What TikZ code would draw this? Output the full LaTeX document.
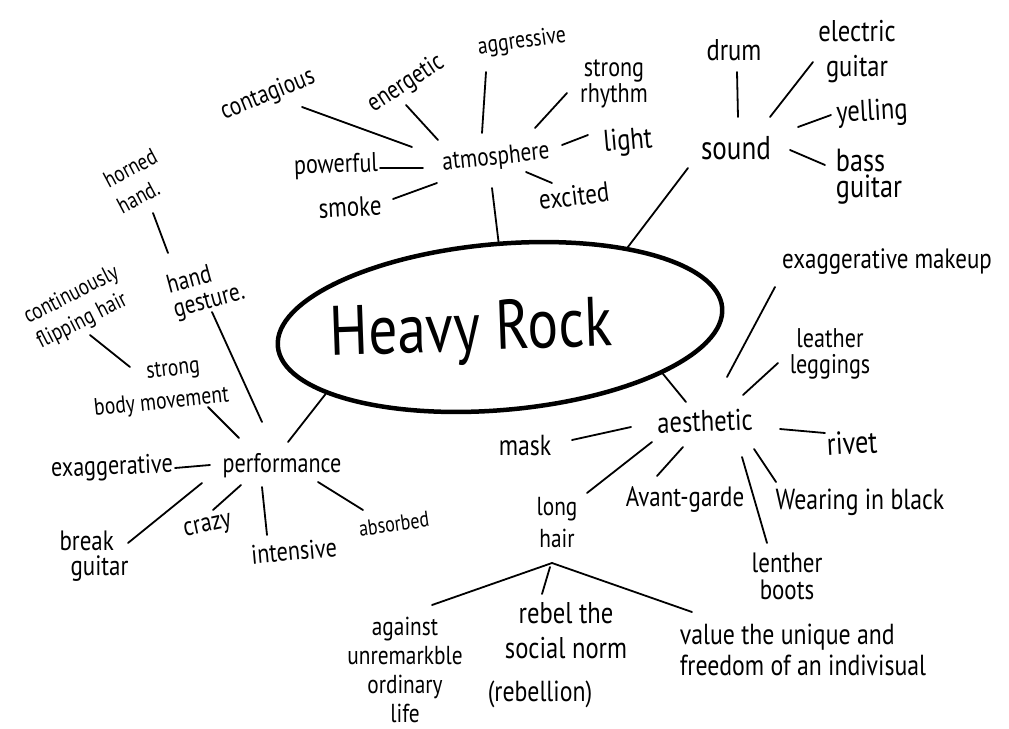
\documentclass[tikz,border=0pt]{standalone}
\usepackage{fontspec}
\setmainfont{PT Sans}[FakeStretch=0.82]
\usepackage{tikz}
\usetikzlibrary{shapes.geometric}
\tikzset{
  word/.style 2 args={font=\fontsize{#1}{#2}\selectfont, inner sep=1pt, align=center},
  link/.style={line width=1.8pt, line cap=round},
  ring/.style={draw, ellipse, line width=4.5pt, minimum width=446pt, minimum height=166pt, inner sep=0pt}
}
\begin{document}
\begin{tikzpicture}[x=1pt,y=-1pt]
\useasboundingbox (0,0) rectangle (1009,728);
\node[ring, rotate=5] (ring) at (500,327) {};
\node[word={70}{70}, rotate=2] (rock) at (471,333) {Heavy Rock};

\node[word={26}{26}, rotate=6] (atmo) at (496,158) {atmosphere};
\node[word={26}{26}, rotate=22] (contag) at (268,95) {contagious};
\node[word={26}{26}, rotate=33] (ener) at (406,84) {energetic};
\node[word={24}{24}, rotate=8] (aggr) at (522,42) {aggressive};
\node[word={27}{27}, rotate=2] (power) at (336,166) {powerful};
\node[word={28}{28}, rotate=3] (smoke) at (350,207) {smoke};
\node[word={27}{23}] (rhythm) at (614,84) {strong\\rhythm};
\node[word={30}{30}, rotate=5] (light) at (628,142) {light};
\node[word={28}{28}, rotate=7] (excited) at (574,196) {excited};

\node[word={33}{33}] (sound) at (736,148) {sound};
\node[word={30}{30}] (drum) at (734,50) {drum};
\node[word={30}{35}] (electric) at (857,52) {electric\\guitar};
\node[word={30}{30}, rotate=3] (yelling) at (872,113) {yelling};
\node[word={32}{26}, align=left] (bass) at (869,177) {bass\\guitar};

\node[word={27}{27}] (perf) at (282,466) {performance};
\node[word={23}{29}, rotate=28, align=left] (horned) at (137,181) {horned\\hand.};
\node[word={26}{25}, rotate=15, align=left] (hand) at (206,290) {hand\\gesture.};
\node[word={23}{28}, rotate=27, align=left] (flip) at (78,308) {continuously\\flipping hair};
\node[word={24}{32}, rotate=6] (body) at (160,388) {\hspace*{30pt}strong\\body movement};
\node[word={27}{27}, rotate=2] (exag) at (112,468) {exaggerative};
\node[word={28}{25}, align=left] (brk) at (94,556) {break\\\hspace*{11pt}guitar};
\node[word={27}{27}, rotate=12] (crazy) at (208,527) {crazy};
\node[word={27}{27}, rotate=5] (intens) at (294,551) {intensive};
\node[word={22}{22}, rotate=8] (absorb) at (394,524) {absorbed};

\node[word={30}{30}, rotate=2] (aest) at (705,421) {aesthetic};
\node[word={28}{28}] (makeup) at (887,262) {exaggerative makeup};
\node[word={27}{26}] (leggings) at (830,354) {leather\\leggings};
\node[word={29}{29}] (mask) at (525,446) {mask};
\node[word={32}{32}, rotate=3] (rivet) at (852,443) {rivet};
\node[word={26}{32}] (long) at (557,522) {long\\hair};
\node[word={28}{28}] (avant) at (685,500) {Avant-garde};
\node[word={29}{29}] (black) at (860,502) {Wearing in black};
\node[word={28}{27}] (boots) at (787,576) {lenther\\boots};

\coordinate (fork) at ([shift={(-5,41)}]long.center);
\node[word={26}{29}] (against) at (405,670) {against\\unremarkble\\ordinary\\life};
\node[word={30}{35}] (rebel) at (566,631) {rebel the\\social norm};
\node[word={29}{29}] (rebellion) at (540,694) {(rebellion)};
\node[word={29}{31}, align=left] (value) at (803,650) {value the unique and\\freedom of an indivisual};

\foreach \a/\ax/\ay/\b/\bx/\by in {
  contag/34/12/atmo/-84/-11, ener/0/21/atmo/-58/-18, aggr/-36/30/atmo/-14/-25,
  power/44/2/atmo/-73/10, smoke/43/-8/atmo/-59/25, rhythm/-47/9/atmo/39/-30,
  light/-40/-7/atmo/66/-13, excited/-22/-13/atmo/30/14,
  drum/3/22/sound/2/-31, electric/-44/10/sound/34/-31,
  yelling/-41/2/sound/62/-21, bass/-44/-12/sound/54/2,
  horned/16/32/hand/-38/-37, hand/6/22/perf/-20/-44, flip/12/27/body/-30/-21,
  body/48/19/perf/-43/-28, exag/63/0/perf/-72/-1, brk/34/-13/perf/-80/17,
  crazy/5/-17/perf/-41/19, intens/-27/-16/perf/-20/21, absorb/-31/-14/perf/36/16,
  makeup/-112/25/aest/22/-44, leggings/-52/9/aest/38/-26, mask/47/-6/aest/-74/6,
  rivet/-27/-10/aest/75/8, long/30/-29/aest/-53/21, avant/-28/-24/aest/-22/26,
  black/-84/-20/aest/49/28, boots/-20/-33/aest/37/36,
  fork/0/0/against/27/-65, fork/-2/4/rebel/-24/-37, fork/0/0/value/-111/-38}
  \draw[link] ([shift={(\ax,\ay)}]\a.center) -- ([shift={(\bx,\by)}]\b.center);

\draw[link] ([shift={(-4,30)}]atmo.center) -- (ring.86);
\draw[link] ([shift={(-48,20)}]sound.center) -- (ring.27);
\draw[link] ([shift={(6,-24)}]perf.center) -- (ring.196);
\draw[link] (ring.-21) -- ([shift={(-19,-19)}]aest.center);
\end{tikzpicture}
\end{document}
